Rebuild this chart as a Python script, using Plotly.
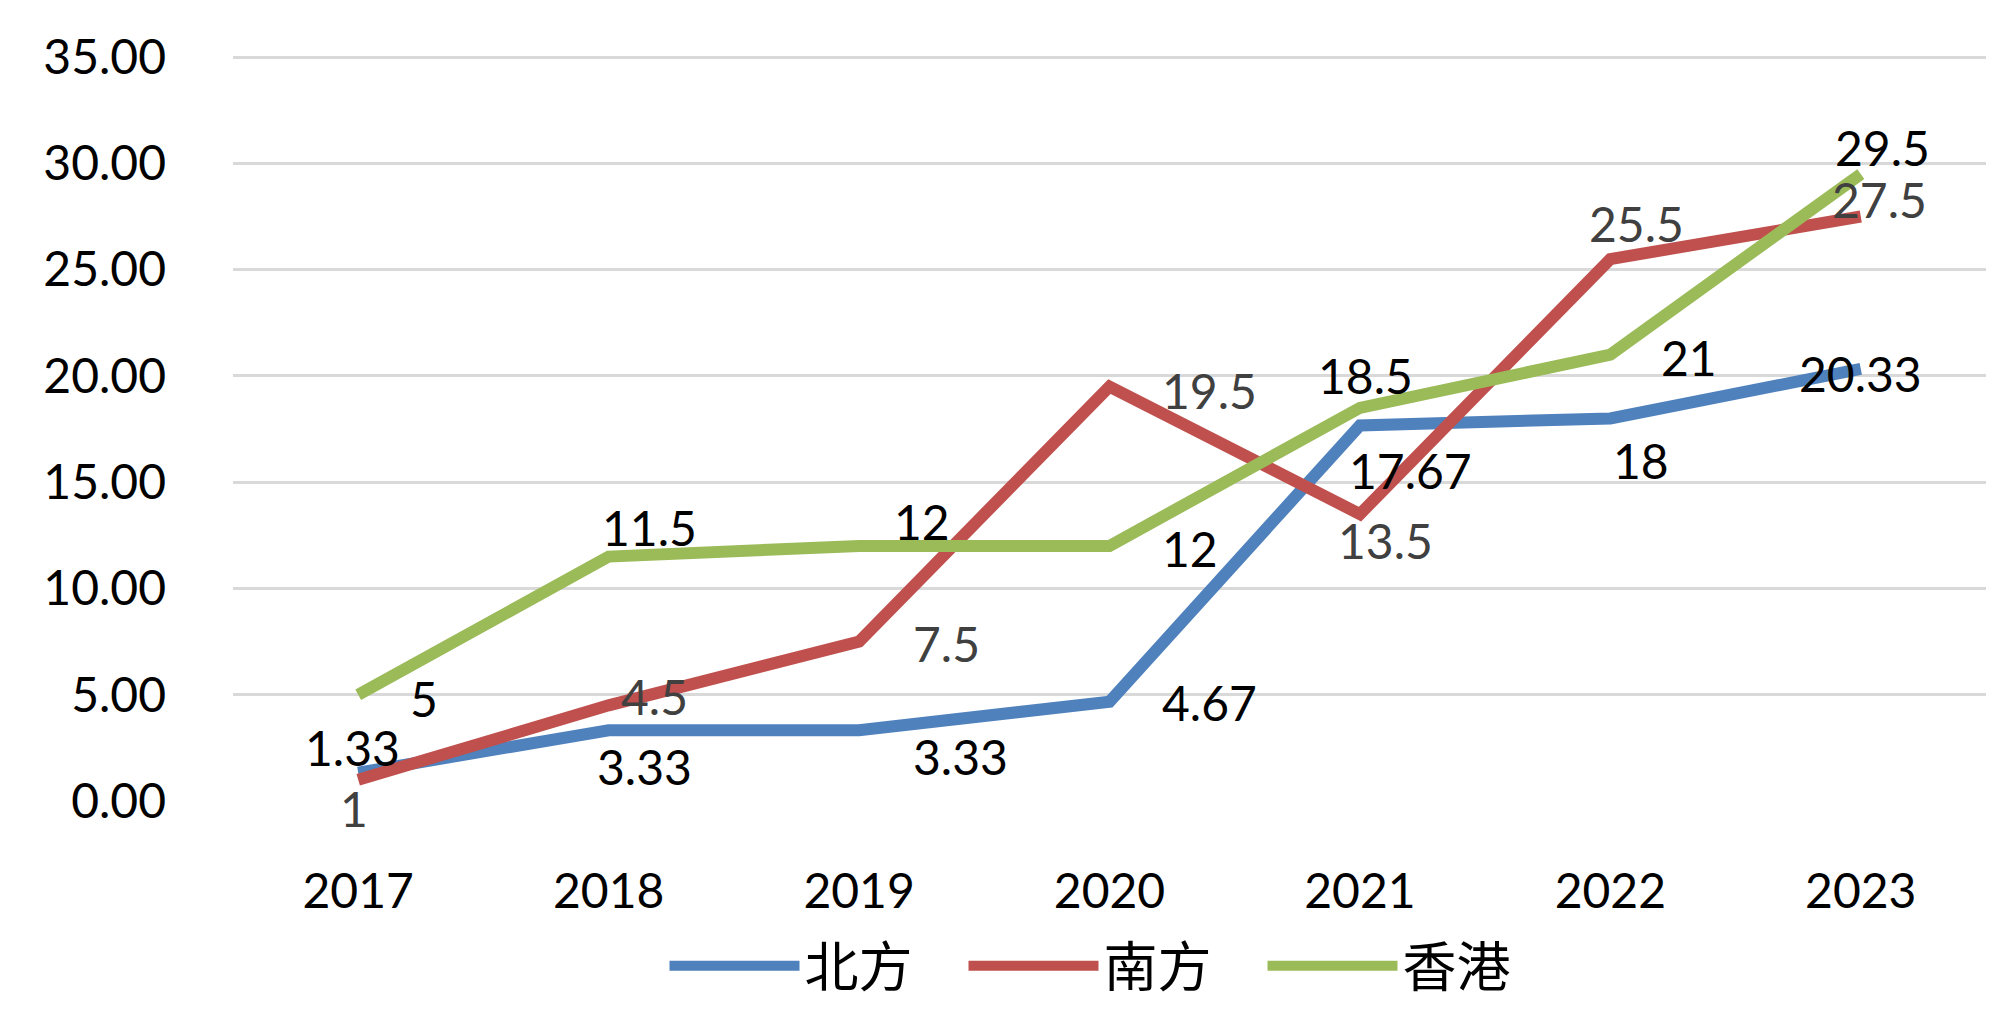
import plotly.graph_objects as go

years = ["2017", "2018", "2019", "2020", "2021", "2022", "2023"]
north = [1.33, 3.33, 3.33, 4.67, 17.67, 18, 20.33]
south = [1, 4.5, 7.5, 19.5, 13.5, 25.5, 27.5]
hk = [5, 11.5, 12, 12, 18.5, 21, 29.5]
names = ["北方", "南方", "香港"]
y_ticks = [0, 5, 10, 15, 20, 25, 30, 35]

colors = ["#4F81BD", "#C0504D", "#9BBB59"]
label_colors = ["#000000", "#404040", "#000000"]
# label offsets in px (styling)
offsets = [
    [(-6, 25), (36, -36), (101, -26), (100, -1), (51, -45), (31, -42), (0, -5)],
    [(-4, -29), (46, 9), (87, -2), (100, -4), (26, -26), (26, 36), (19, 17)],
    [(66, -4), (41, 29), (63, 24), (80, -3), (6, 32), (79, -3), (22, 27)],
]

fig = go.Figure()
series = [north, south, hk]
for i, (nm, vals) in enumerate(zip(names, series)):
    fig.add_trace(go.Scatter(
        x=years, y=vals, mode="lines", name=nm,
        line=dict(color=colors[i], width=12),
    ))

annotations = []
for i, vals in enumerate(series):
    for j, v in enumerate(vals):
        dx, dy = offsets[i][j]
        annotations.append(dict(
            x=j, y=v, xref="x", yref="y", text=f"{v:g}", showarrow=False,
            xshift=dx, yshift=dy,
            font=dict(family="Lato", size=48, color=label_colors[i]),
        ))

fig.update_layout(
    width=2000, height=1035,
    margin=dict(l=233, r=14, t=55, b=234),
    plot_bgcolor="white", paper_bgcolor="white",
    annotations=annotations,
    showlegend=True,
    legend=dict(
        orientation="h", x=0.502, xanchor="center", y=-0.165, yanchor="top",
        font=dict(family="Noto Sans CJK SC", size=54, color="#000000"),
        itemwidth=130, entrywidth=154,
    ),
    xaxis=dict(
        type="category", range=[-0.5, 6.5], showgrid=False,
        showline=False, ticks="", ticklabelstandoff=58,
        tickfont=dict(family="Lato", size=48, color="#000000"),
        zeroline=False,
    ),
    yaxis=dict(
        range=[0, 35.1], tickvals=y_ticks,
        ticktext=[f"{t:.2f}" for t in y_ticks],
        showgrid=True, gridcolor="#D9D9D9", gridwidth=3,
        zeroline=False, showline=False, ticks="", ticklabelstandoff=66,
        tickfont=dict(family="Lato", size=48, color="#000000"),
    ),
)

fig.write_html("out.html", config={"displayModeBar": False},
               post_script="document.body.style.margin='0';")
